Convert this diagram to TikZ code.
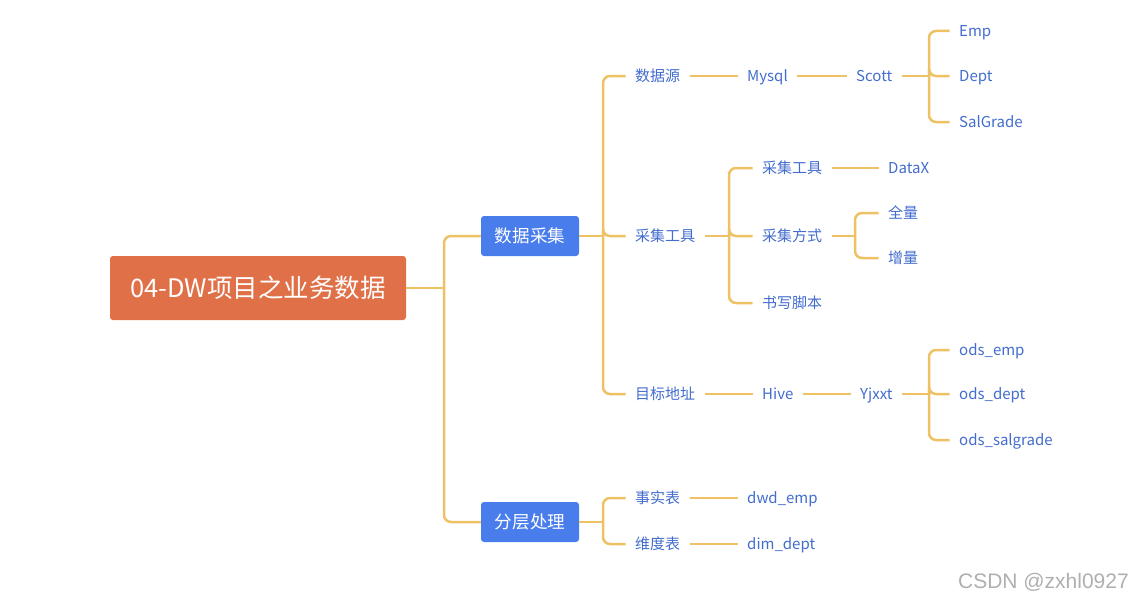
\documentclass[tikz,border=0pt]{standalone}
\usepackage{fontspec}
\setmainfont{Noto Sans CJK SC}
\newfontfamily\wmfont{Liberation Sans}
\definecolor{lineC}{RGB}{238,194,100}
\definecolor{txtC}{RGB}{66,108,206}
\definecolor{rootC}{RGB}{224,112,72}
\definecolor{boxC}{RGB}{74,125,236}
\definecolor{wmC}{RGB}{175,175,175}
\tikzset{
  leaf/.style={anchor=west, inner xsep=9.5pt, inner ysep=2pt, text height=11pt, text depth=0pt, text=txtC, font=\fontsize{15}{18}\selectfont},
  conn/.style={draw=lineC, line width=2.5pt, rounded corners=7pt},
  bluebox/.style={fill=boxC, rounded corners=3pt, text=white, minimum width=98pt, minimum height=40pt, inner sep=0pt, text height=12.8pt, text depth=0pt, font=\fontsize{17.6}{20}\selectfont},
  rootbox/.style={fill=rootC, rounded corners=3pt, text=white, minimum width=296pt, minimum height=64pt, inner sep=0pt, text height=18.6pt, text depth=0pt, font=\fontsize{25.5}{28}\selectfont},
}
\begin{document}
\begin{tikzpicture}[x=1pt,y=-1pt]
\useasboundingbox (0,0) rectangle (1132,602);
% main boxes
\node[rootbox] (root) at (258,288) {04-DW项目之业务数据};
\node[bluebox] (cj) at (530,236) {数据采集};
\node[bluebox] (fc) at (530,522) {分层处理};
% level 2
\node[leaf] (src) at (625.5,76) {数据源};
\node[leaf] (tool) at (625.5,236) {采集工具};
\node[leaf] (dst) at (625.5,394) {目标地址};
\node[leaf] (fact) at (625.5,498) {事实表};
\node[leaf] (dim) at (625.5,544) {维度表};
% data source chain
\node[leaf] (mysql) at (737.5,76) {Mysql};
\node[leaf] (scott) at (846.5,76) {Scott};
\node[leaf] (emp) at (949.5,31) {Emp};
\node[leaf] (dept) at (949.5,76) {Dept};
\node[leaf] (sal) at (949.5,122) {SalGrade};
% tool branch
\node[leaf] (tool2) at (752.5,168) {采集工具};
\node[leaf] (way) at (752.5,236) {采集方式};
\node[leaf] (script) at (752.5,303) {书写脚本};
\node[leaf] (datax) at (878.5,168) {DataX};
\node[leaf] (full) at (878.5,213) {全量};
\node[leaf] (inc) at (878.5,258) {增量};
% target chain
\node[leaf] (hive) at (752.5,394) {Hive};
\node[leaf] (yj) at (850.5,394) {Yjxxt};
\node[leaf] (oemp) at (949.5,350) {ods\_emp};
\node[leaf] (odept) at (949.5,394) {ods\_dept};
\node[leaf] (osal) at (949.5,440) {ods\_salgrade};
% layer chain
\node[leaf] (dwd) at (737.5,498) {dwd\_emp};
\node[leaf] (dimd) at (737.5,544) {dim\_dept};
% watermark
\node[anchor=east, inner sep=0pt, text=wmC, font=\wmfont\fontsize{21}{24}\selectfont] (wm) at (1129,582) {CSDN @zxhl0927};

% junctions
\coordinate (j0) at (444,288);
\coordinate (j1) at (603,236);
\coordinate (j2) at (929,76);
\coordinate (j3) at (729,236);
\coordinate (j4) at (855,236);
\coordinate (j5) at (929,394);
\coordinate (j6) at (603,522);

\draw[conn] (root.east) -- (j0);
\draw[conn] (j0) |- (cj.west);
\draw[conn] (j0) |- (fc.west);

\draw[conn] (cj.east) -- (j1);
\draw[conn] (j1) |- (src.west);
\draw[conn] (j1) |- (tool.west);
\draw[conn] (j1) |- (dst.west);

\draw[conn] (src.east) -- (mysql.west);
\draw[conn] (mysql.east) -- (scott.west);
\draw[conn] (scott.east) -- (j2);
\draw[conn] (j2) |- (emp.west);
\draw[conn] (j2) |- (dept.west);
\draw[conn] (j2) |- (sal.west);

\draw[conn] (tool.east) -- (j3);
\draw[conn] (j3) |- (tool2.west);
\draw[conn] (j3) |- (way.west);
\draw[conn] (j3) |- (script.west);
\draw[conn] (tool2.east) -- (datax.west);
\draw[conn] (way.east) -- (j4);
\draw[conn] (j4) |- (full.west);
\draw[conn] (j4) |- (inc.west);

\draw[conn] (dst.east) -- (hive.west);
\draw[conn] (hive.east) -- (yj.west);
\draw[conn] (yj.east) -- (j5);
\draw[conn] (j5) |- (oemp.west);
\draw[conn] (j5) |- (odept.west);
\draw[conn] (j5) |- (osal.west);

\draw[conn] (fc.east) -- (j6);
\draw[conn] (j6) |- (fact.west);
\draw[conn] (j6) |- (dim.west);
\draw[conn] (fact.east) -- (dwd.west);
\draw[conn] (dim.east) -- (dimd.west);
\end{tikzpicture}
\end{document}
